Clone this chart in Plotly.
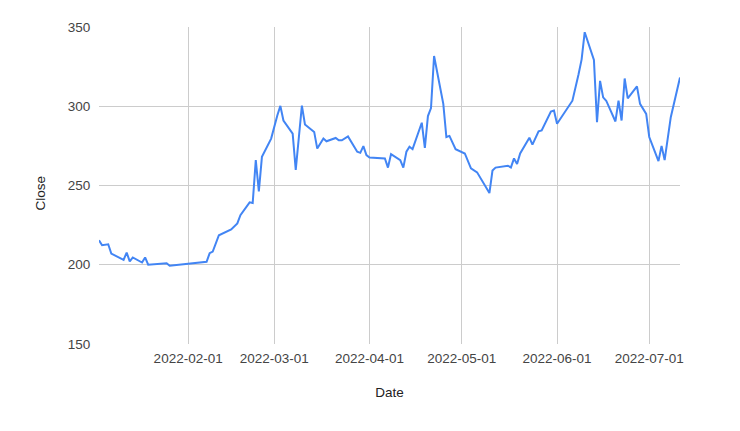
import plotly.graph_objects as go

dates = [
    "2022-01-03", "2022-01-04", "2022-01-06", "2022-01-07", "2022-01-11", "2022-01-12",
    "2022-01-13", "2022-01-14", "2022-01-17", "2022-01-18", "2022-01-19", "2022-01-25",
    "2022-01-26", "2022-02-07", "2022-02-08", "2022-02-09", "2022-02-11", "2022-02-15",
    "2022-02-17", "2022-02-18", "2022-02-21", "2022-02-22", "2022-02-23", "2022-02-24",
    "2022-02-25", "2022-02-28", "2022-03-02", "2022-03-03", "2022-03-04", "2022-03-07",
    "2022-03-08", "2022-03-10", "2022-03-11", "2022-03-14", "2022-03-15", "2022-03-17",
    "2022-03-18", "2022-03-21", "2022-03-22", "2022-03-23", "2022-03-25", "2022-03-28",
    "2022-03-29", "2022-03-30", "2022-03-31", "2022-04-01", "2022-04-06", "2022-04-07",
    "2022-04-08", "2022-04-11", "2022-04-12", "2022-04-13", "2022-04-14", "2022-04-15",
    "2022-04-18", "2022-04-19", "2022-04-20", "2022-04-21", "2022-04-22", "2022-04-25",
    "2022-04-26", "2022-04-27", "2022-04-29", "2022-05-02", "2022-05-04", "2022-05-06",
    "2022-05-10", "2022-05-11", "2022-05-12", "2022-05-16", "2022-05-17", "2022-05-18",
    "2022-05-19", "2022-05-20", "2022-05-23", "2022-05-24", "2022-05-26", "2022-05-27",
    "2022-05-30", "2022-05-31", "2022-06-01", "2022-06-06", "2022-06-08", "2022-06-09",
    "2022-06-10", "2022-06-13", "2022-06-14", "2022-06-15", "2022-06-16", "2022-06-17",
    "2022-06-20", "2022-06-21", "2022-06-22", "2022-06-23", "2022-06-24", "2022-06-27",
    "2022-06-28", "2022-06-30", "2022-07-01", "2022-07-04", "2022-07-05", "2022-07-06",
    "2022-07-08", "2022-07-11",
]

close = [
    215.4, 212.3, 212.9, 207.0, 203.1, 207.7,
    202.1, 204.6, 201.4, 204.6, 200.0, 201.0,
    199.4, 201.9, 207.3, 208.3, 218.6, 222.3,
    226.1, 231.3, 239.4, 238.9, 266.0, 246.3,
    268.1, 279.6, 294.2, 300.2, 291.0, 282.7,
    259.8, 300.4, 288.5, 283.8, 273.3, 279.6,
    277.9, 280.0, 278.5, 278.5, 281.0, 271.3,
    270.6, 274.8, 269.2, 267.7, 267.1, 261.3,
    269.8, 266.0, 261.3, 271.3, 274.4, 272.9,
    289.6, 273.8, 293.8, 298.9, 331.7, 301.5,
    280.6, 281.3, 272.9, 270.2, 260.8, 258.3,
    245.2, 259.4, 261.3, 262.5, 261.4, 267.1,
    263.6, 270.2, 280.2, 275.8, 284.2, 284.8,
    296.7, 297.3, 289.0, 303.5, 320.2, 329.6,
    346.7, 329.2, 290.0, 316.0, 305.6, 303.5,
    290.4, 303.5, 291.0, 317.5, 305.0, 312.5,
    301.5, 295.2, 280.6, 265.4, 275.0, 266.0,
    293.1, 318.1,
]

x_ticks = ["2022-02-01", "2022-03-01", "2022-04-01", "2022-05-01", "2022-06-01", "2022-07-01"]
y_ticks = [150, 200, 250, 300, 350]

fig = go.Figure(
    go.Scatter(
        x=dates,
        y=close,
        mode="lines",
        line=dict(color="#4285F4", width=2),
        name="Close",
    )
)

fig.update_layout(
    width=732,
    height=423,
    margin=dict(l=91, r=60, t=16, b=87),
    plot_bgcolor="white",
    paper_bgcolor="white",
    showlegend=False,
    font=dict(family="Liberation Sans, Arial, sans-serif", size=13.5, color="#444444"),
    annotations=[
        dict(
            text="Close",
            xref="paper", yref="paper",
            x=-0.1009, y=0.476,
            xanchor="center", yanchor="middle",
            textangle=-90,
            showarrow=False,
            font=dict(size=13.5, color="#222222"),
        )
    ],
)

fig.update_xaxes(
    range=[dates[0], dates[-1]],
    tickvals=x_ticks,
    ticktext=x_ticks,
    showgrid=True,
    gridcolor="#cccccc",
    gridwidth=1,
    zeroline=False,
    showline=False,
    ticks="outside",
    ticklen=2,
    tickcolor="rgba(0,0,0,0)",
    title=dict(text="Date", standoff=22, font=dict(size=13.5, color="#222222")),
)

fig.update_yaxes(
    range=[150, 350],
    tickvals=y_ticks,
    showgrid=True,
    gridcolor="#cccccc",
    gridwidth=1,
    zeroline=False,
    showline=False,
    ticks="outside",
    ticklen=5,
    tickcolor="rgba(0,0,0,0)",
)

fig.write_html("out.html")
